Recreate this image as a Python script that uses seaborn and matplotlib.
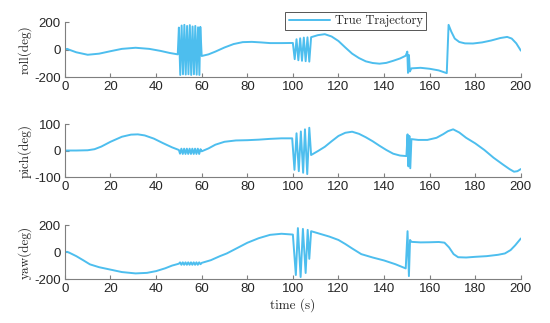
import matplotlib
matplotlib.use("Agg")
import matplotlib.pyplot as plt
import numpy as np
import seaborn as sns

# valores (tiempo en s, ángulos en grados)
t_roll = [0, 1, 2, 5, 10, 15, 20, 25, 31, 37, 42, 46, 49.5,
          50.0, 50.6, 51.2, 51.8, 52.4, 53.0, 53.6, 54.2, 54.8, 55.4, 56.0, 56.6, 57.2, 57.8, 58.4, 59.0, 59.4,
          60, 63, 66, 70, 74, 78, 82, 86, 90, 95, 100,
          100.8, 101.6, 102.4, 103.2, 104.0, 104.8, 105.6, 106.4, 107.2, 108,
          111, 114, 117, 120, 123, 126, 129, 132, 135, 138, 141, 144, 147, 149.5,
          150.2, 150.5, 150.9, 151.3, 152, 156, 160, 164, 167.5, 168.3, 169.5, 171, 173, 175.5,
          179, 183, 187, 191, 194, 196, 198, 200]
roll = [0, 5, -2, -20, -38, -30, -12, 5, 13, 5, -10, -25, -35,
        160, -185, 175, -180, 180, -182, 172, -180, 178, -185, 168, -180, 172, -183, 162, -185, 165,
        -47, -35, -15, 15, 40, 54, 56, 52, 47, 47, 48,
        -70, 75, -78, 82, -82, 87, -85, 89, -88, 90,
        105, 112, 95, 62, 15, -30, -62, -86, -98, -103, -97, -82, -65, -45,
        -15, -170, -40, -160, -137, -133, -140, -152, -172, 180, 130, 80, 55, 45,
        44, 52, 66, 84, 92, 80, 45, -8]

t_pitch = [0, 5, 10, 13, 16, 20, 25, 29, 32, 35, 39, 43, 47, 50,
           50.5, 51.1, 51.7, 52.3, 52.9, 53.5, 54.1, 54.7, 55.3, 55.9, 56.5, 57.1, 57.7, 58.3, 58.9, 59.5,
           60, 63, 66, 70, 75, 80, 85, 90, 95, 99.7,
           100.7, 101.6, 102.6, 103.5, 104.5, 105.3, 106.3, 107.2, 108,
           111, 114, 117, 120, 123, 126, 129, 132, 135, 138, 141, 144, 147, 149.8,
           150.3, 150.7, 151.1, 151.5, 152, 155, 159, 163, 166, 168, 170.3,
           173, 176, 180, 184, 188, 192, 195, 197, 198.5, 200]
pitch = [0, 0, 1, 5, 15, 33, 52, 60, 61, 57, 45, 28, 12, 2,
         -12, 7, -13, 7, -13, 7, -13, 7, -13, 7, -13, 7, -13, 7, -13, 5,
         -3, 8, 22, 33, 38, 39, 41, 44, 46, 46,
         -73, 65, -78, 72, -84, 80, -89, 86, -17,
         -2, 14, 35, 55, 67, 71, 63, 50, 35, 18, 2, -12, -19, -21,
         61, -60, 55, -67, 43, 40, 40, 48, 62, 73, 80,
         68, 48, 27, 2, -27, -52, -70, -80, -78, -70]

t_yaw = [0, 1, 2, 5, 8, 11, 15, 20, 25, 31, 36, 40, 44, 47, 50,
         50.5, 51.1, 51.7, 52.3, 52.9, 53.5, 54.1, 54.7, 55.3, 55.9, 56.5, 57.1, 57.7, 58.3, 58.9, 59.5,
         60, 64, 68, 71, 75, 80, 85, 90, 95, 100,
         101.3, 102.2, 103.4, 104.4, 105.6, 106.5, 107.2, 108,
         112, 116, 120, 123, 126, 130, 135, 140, 145, 149.5,
         150.3, 150.9, 151.4, 152, 156, 160, 164, 166.5, 168.5, 170.5, 172.5,
         176, 180, 185, 190, 193, 195.5, 197.5, 200]
yaw = [0, 2, -5, -30, -60, -91, -112, -130, -148, -158, -154, -141, -120, -100, -86,
       -76, -94, -76, -94, -76, -94, -76, -94, -76, -94, -76, -94, -76, -94, -76, -90,
       -80, -60, -30, -10, 25, 69, 103, 128, 136, 130,
       -170, 178, -185, 172, -155, 165, -50, 155,
       135, 115, 90, 60, 27, -15, -40, -62, -90, -121,
       155, -178, 90, 76, 72, 73, 75, 70, 35, -15, -38,
       -40, -35, -30, -20, -10, 15, 50, 101]

paneles = [
    (t_roll, roll, "roll(deg)", [-200, 0, 200]),
    (t_pitch, pitch, "pich(deg)", [-100, 0, 100]),
    (t_yaw, yaw, "yaw(deg)", [-200, 0, 200]),
]
xticks = list(range(0, 201, 20))

color = "#4DBEEE"
gris = "#7f7f7f"
texto = "#262626"

sns.set_style("ticks")
plt.rcParams["font.family"] = ["Liberation Sans", "DejaVu Sans"]

fig = plt.figure(figsize=(5.5, 3.23), dpi=100)
posiciones = [
    [0.118, 0.7616, 0.829, 0.170],
    [0.118, 0.452, 0.829, 0.164],
    [0.118, 0.136, 0.829, 0.167],
]

axes = []
for (t, v, nombre, yt), pos in zip(paneles, posiciones):
    ax = fig.add_axes(pos)
    sns.lineplot(x=t, y=v, ax=ax, color=color, lw=1.4, sort=False,
                 estimator=None, label="True Trajectory" if nombre.startswith("roll") else None)
    ax.set_xlim(0, 200)
    ax.set_ylim(yt[0], yt[-1])
    ax.set_xticks(xticks)
    ax.set_yticks(yt)
    ax.set_yticklabels([str(y).replace("\u2212", "-") for y in yt])
    ax.set_ylabel(nombre, family="cmr10", fontsize=9.5, color=texto, labelpad=2)
    ax.set_xlabel("")
    for s in ["top", "right"]:
        ax.spines[s].set_visible(False)
    for s in ["left", "bottom"]:
        ax.spines[s].set_color(gris)
        ax.spines[s].set_linewidth(0.8)
    ax.tick_params(direction="in", length=3, width=0.8, color=gris,
                   labelsize=9.5, labelcolor=texto, pad=3)
    if ax.get_legend() is not None:
        ax.get_legend().remove()
    axes.append(ax)

axes[-1].set_xlabel("time (s)", family="cmr10", fontsize=9.5, color=texto, labelpad=2)

handles, labels = axes[0].get_legend_handles_labels()
leg = fig.legend(handles, labels, loc="upper right", bbox_to_anchor=(0.7745, 0.963),
                 bbox_transform=fig.transFigure, prop={"family": "cmr10", "size": 9},
                 frameon=True, fancybox=False, framealpha=1, edgecolor="#555555",
                 handlelength=3.3, borderpad=0.25, borderaxespad=0, handletextpad=0.4)
leg.get_frame().set_linewidth(0.7)

fig.savefig("out.png", dpi=100)
